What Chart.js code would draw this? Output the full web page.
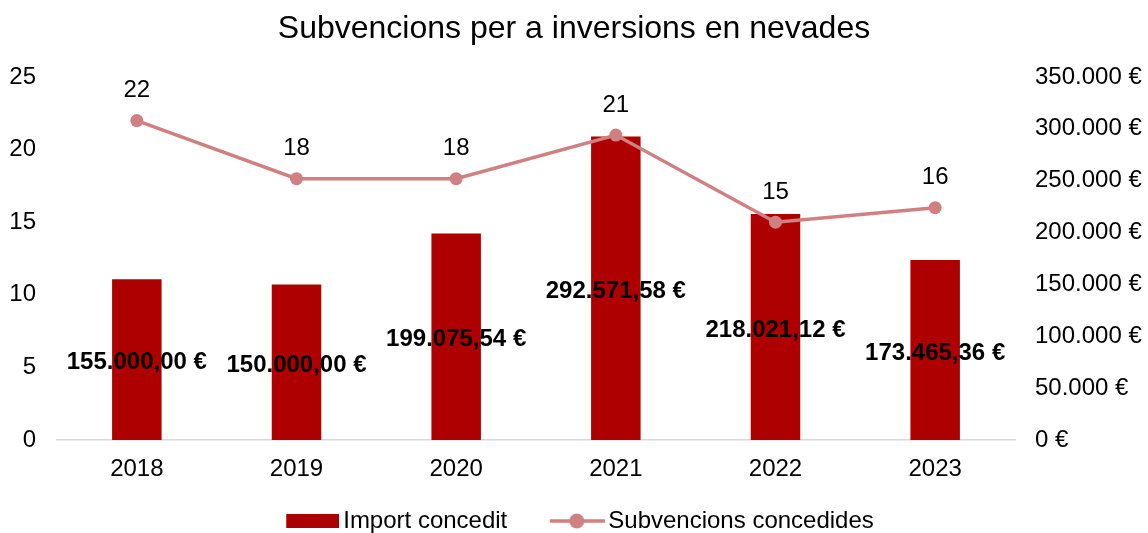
<!DOCTYPE html>
<html>
<head>
<meta charset="utf-8">
<script src="https://cdn.jsdelivr.net/npm/chart.js@4.4.1/dist/chart.umd.min.js"></script>
<style>
  html, body { margin: 0; padding: 0; background: #fff; }
</style>
</head>
<body>
<canvas id="chart" width="1148" height="533"></canvas>
<script>
// data
const years = ['2018', '2019', '2020', '2021', '2022', '2023'];
const importConcedit = [155000.00, 150000.00, 199075.54, 292571.58, 218021.12, 173465.36];
const subvencions = [22, 18, 18, 21, 15, 16];
const countAxis = { min: 0, max: 25, step: 5 };
const euroAxis = { min: 0, max: 350000, step: 50000 };

const barColor = '#AE0000';
const lineColor = '#D08080';
const fontFamily = '"Liberation Sans", Arial, sans-serif';

Chart.defaults.font.family = fontFamily;
Chart.defaults.font.size = 24;
Chart.defaults.color = '#000';

function fmtEuro(v, dec) {
    const parts = Number(v).toFixed(dec).split('.');
    const int = parts[0].replace(/\B(?=(\d{3})+(?!\d))/g, '.');
    return (parts[1] ? int + ',' + parts[1] : int) + ' €';
}

// legend swatches (the visible part sits at the right end of the image)
function barSwatch() {
    const c = document.createElement('canvas');
    c.width = 73; c.height = 14;
    const g = c.getContext('2d');
    g.fillStyle = barColor;
    g.fillRect(20, 0, 53, 14);
    return c;
}
function lineSwatch() {
    const c = document.createElement('canvas');
    c.width = 74; c.height = 16;
    const g = c.getContext('2d');
    g.strokeStyle = lineColor;
    g.lineWidth = 3.5;
    g.beginPath(); g.moveTo(19, 8); g.lineTo(74, 8); g.stroke();
    g.fillStyle = lineColor;
    g.beginPath(); g.arc(46, 8, 7.5, 0, Math.PI * 2); g.fill();
    return c;
}

const valueLabels = {
    id: 'valueLabels',
    afterDatasetsDraw(chart) {
        const ctx = chart.ctx;
        ctx.save();
        ctx.textAlign = 'center';
        ctx.textBaseline = 'middle';
        ctx.fillStyle = '#000';
        ctx.font = 'bold 24px ' + fontFamily;
        chart.getDatasetMeta(0).data.forEach((bar, i) => {
            ctx.fillText(fmtEuro(importConcedit[i], 2), bar.x, (bar.y + bar.base) / 2 + 3);
        });
        ctx.font = '24px ' + fontFamily;
        chart.getDatasetMeta(1).data.forEach((pt, i) => {
            ctx.fillText(String(subvencions[i]), pt.x, pt.y - 30);
        });
        ctx.restore();
    }
};

const swatches = [barSwatch(), lineSwatch()];

new Chart(document.getElementById('chart').getContext('2d'), {
    type: 'bar',
    data: {
        labels: years,
        datasets: [{
            type: 'bar',
            label: 'Import concedit',
            data: importConcedit,
            backgroundColor: barColor,
            yAxisID: 'y1',
            categoryPercentage: 0.31,
            barPercentage: 1,
            order: 1
        }, {
            type: 'line',
            label: 'Subvencions concedides',
            data: subvencions,
            borderColor: lineColor,
            backgroundColor: lineColor,
            borderWidth: 3.5,
            pointRadius: 6.5,
            pointBackgroundColor: lineColor,
            pointBorderWidth: 0,
            yAxisID: 'y',
            order: 0
        }]
    },
    options: {
        responsive: false,
        animation: false,
        layout: { padding: { top: 0, left: 0, right: 0, bottom: -10 } },
        plugins: {
            tooltip: { enabled: false },
            title: {
                display: true,
                text: 'Subvencions per a inversions en nevades',
                color: '#000',
                font: { size: 32, weight: 'normal' },
                padding: { top: 10, bottom: 28.6 }
            },
            legend: {
                position: 'bottom',
                labels: {
                    usePointStyle: true,
                    pointStyleWidth: 57,
                    padding: 32,
                    color: '#000',
                    font: { size: 24 },
                    generateLabels(chart) {
                        return chart.data.datasets.map((ds, i) => ({
                            text: ds.label,
                            pointStyle: swatches[i],
                            fillStyle: 'transparent',
                            strokeStyle: 'transparent',
                            lineWidth: 0,
                            hidden: false,
                            datasetIndex: i,
                            fontColor: '#000'
                        }));
                    }
                }
            }
        },
        scales: {
            x: {
                grid: { display: false },
                border: { display: true, color: '#D9D9D9', width: 1.5 },
                ticks: { padding: 7, color: '#000' },
                afterFit(scale) { scale.height = 37; }
            },
            y: {
                position: 'left',
                min: countAxis.min,
                max: countAxis.max,
                grid: { display: false },
                border: { display: false },
                ticks: { stepSize: countAxis.step, padding: 13, color: '#000' },
                afterFit(scale) { scale.width = 57; }
            },
            y1: {
                position: 'right',
                min: euroAxis.min,
                max: euroAxis.max,
                grid: { display: false },
                border: { display: false },
                ticks: {
                    stepSize: euroAxis.step,
                    padding: 12,
                    color: '#000',
                    callback: (v) => fmtEuro(v, 0)
                },
                afterFit(scale) { scale.width = 133; }
            }
        }
    },
    plugins: [valueLabels]
});
</script>
</body>
</html>
